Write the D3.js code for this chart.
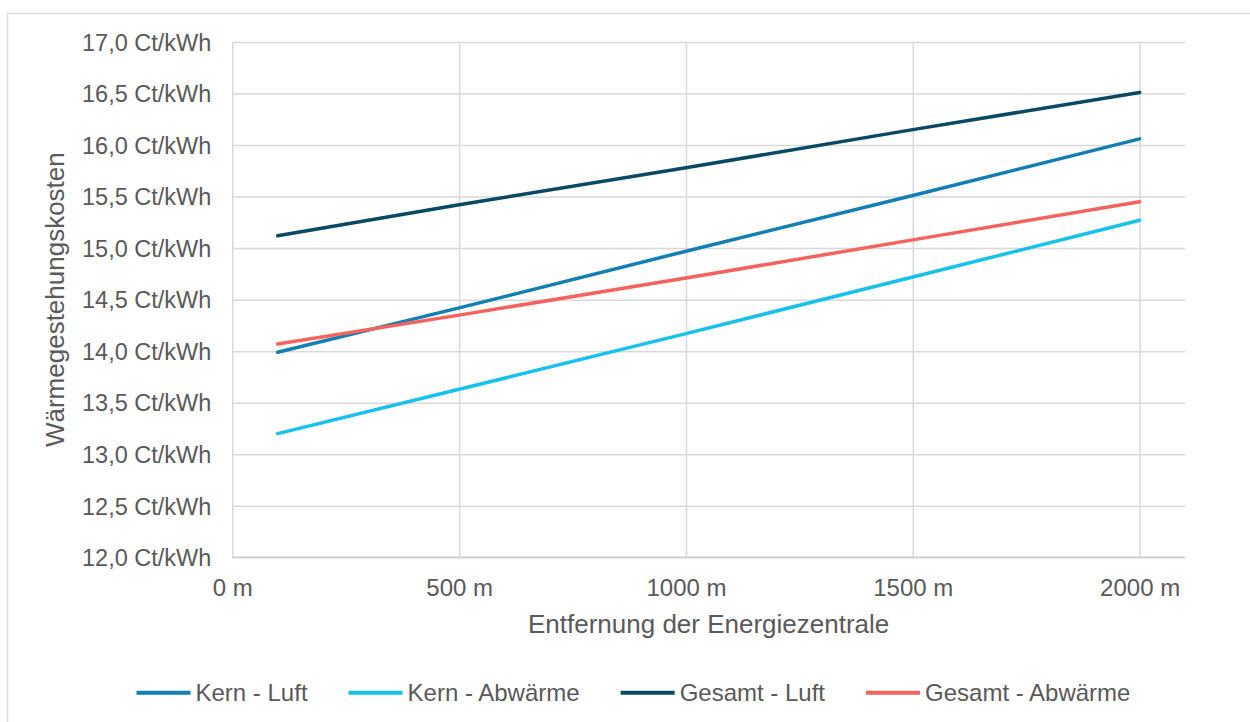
<!DOCTYPE html>
<html>
<head>
<meta charset="utf-8">
<script src="https://cdn.jsdelivr.net/npm/d3@7"></script>
<style>
  html, body { margin: 0; padding: 0; background: #ffffff; }
  svg { display: block; }
  text { font-family: "Liberation Sans", Arial, sans-serif; fill: #595959; }
</style>
</head>
<body>
<svg id="chart" width="1250" height="722"></svg>
<script>
// ---- data ----
const distances = [100, 500, 1000, 1500, 2000];
const kernLuft = [13.99, 14.42, 14.97, 15.51, 16.06];
const kernAbwaerme = [13.20, 13.63, 14.17, 14.72, 15.27];
const gesamtLuft = [15.12, 15.42, 15.78, 16.15, 16.51];
const gesamtAbwaerme = [14.07, 14.35, 14.71, 15.08, 15.45];
const seriesNames = ["Kern - Luft", "Kern - Abwärme", "Gesamt - Luft", "Gesamt - Abwärme"];
const xTickValues = [0, 500, 1000, 1500, 2000];
const xTickLabels = ["0 m", "500 m", "1000 m", "1500 m", "2000 m"];
const yTickValues = [12, 12.5, 13, 13.5, 14, 14.5, 15, 15.5, 16, 16.5, 17];
const yTickLabels = ["12,0 Ct/kWh", "12,5 Ct/kWh", "13,0 Ct/kWh", "13,5 Ct/kWh", "14,0 Ct/kWh", "14,5 Ct/kWh",
                     "15,0 Ct/kWh", "15,5 Ct/kWh", "16,0 Ct/kWh", "16,5 Ct/kWh", "17,0 Ct/kWh"];
const xTitle = "Entfernung der Energiezentrale";
const yTitle = "Wärmegestehungskosten";

// ---- styles ----
const colors = ["#117fb3", "#16c0ef", "#0a4963", "#f4635d"];
const values = [kernLuft, kernAbwaerme, gesamtLuft, gesamtAbwaerme];
const series = seriesNames.map((name, i) => ({
  name, color: colors[i],
  points: distances.map((d, j) => ({ x: d, y: values[i][j] }))
}));

const svg = d3.select("#chart");
const pLeft = 232.3, pRight = 1185, pTop = 42, pBottom = 557.3;

// outer frame
svg.append("rect").attr("x", 7.5).attr("y", 13.5).attr("width", 1260).attr("height", 730)
  .attr("fill", "none").attr("stroke", "#dcdcdc").attr("stroke-width", 1.5);

const x = d3.scaleLinear().domain([0, 2100]).range([pLeft, pRight]);
const y = d3.scaleLinear().domain([12, 17]).range([pBottom, pTop]);

// horizontal gridlines + y labels
const yAxis = svg.append("g").attr("transform", `translate(${pLeft},0)`)
  .call(d3.axisLeft(y).tickValues(yTickValues)
    .tickFormat((d, i) => yTickLabels[i]).tickSize(-(pRight - pLeft)).tickPadding(21));
yAxis.select(".domain").remove();
yAxis.selectAll(".tick line").attr("stroke", "#d9d9d9").attr("stroke-width", 1.5);
yAxis.selectAll(".tick text").style("font-size", "23.5px").attr("fill", "#595959")
  .attr("dy", "0.35em").style("font-family", "'Liberation Sans', Arial, sans-serif");

// vertical gridlines + x labels
const xAxis = svg.append("g").attr("transform", `translate(0,${pBottom})`)
  .call(d3.axisBottom(x).tickValues(xTickValues)
    .tickFormat((d, i) => xTickLabels[i]).tickSize(-(pBottom - pTop)).tickPadding(0));
xAxis.select(".domain").remove();
xAxis.selectAll(".tick line").attr("stroke", "#d9d9d9").attr("stroke-width", 1.5);
xAxis.selectAll(".tick text").style("font-size", "24px").attr("fill", "#595959")
  .attr("y", 38.4).attr("dy", 0).style("font-family", "'Liberation Sans', Arial, sans-serif");

// bottom axis line
svg.append("line").attr("x1", pLeft).attr("x2", pRight).attr("y1", y(12)).attr("y2", y(12))
  .attr("stroke", "#d0d0d0").attr("stroke-width", 1.5);

// lines
const line = d3.line().x(d => x(d.x)).y(d => y(d.y));
svg.append("g").selectAll("path").data(series).join("path")
  .attr("d", d => line(d.points))
  .attr("fill", "none").attr("stroke", d => d.color)
  .attr("stroke-width", 3.5).attr("stroke-linecap", "round").attr("stroke-linejoin", "round");

// axis titles
svg.append("text").attr("x", (pLeft + pRight) / 2).attr("y", 632.5)
  .attr("text-anchor", "middle").style("font-size", "26px").text(xTitle);
svg.append("text").attr("transform", `translate(64,${(pTop + pBottom) / 2}) rotate(-90)`)
  .attr("text-anchor", "middle").style("font-size", "26px").text(yTitle);

// legend
const legend = svg.append("g");
let lx = 136.5;
const ly = 692.7;
series.forEach(s => {
  legend.append("line").attr("x1", lx).attr("x2", lx + 54).attr("y1", ly).attr("y2", ly)
    .attr("stroke", s.color).attr("stroke-width", 4);
  const t = legend.append("text").attr("x", lx + 59).attr("y", 700.7)
    .style("font-size", "24px").text(s.name);
  const w = t.node().getComputedTextLength();
  lx = lx + 59 + w + 41;
});
</script>
</body>
</html>
